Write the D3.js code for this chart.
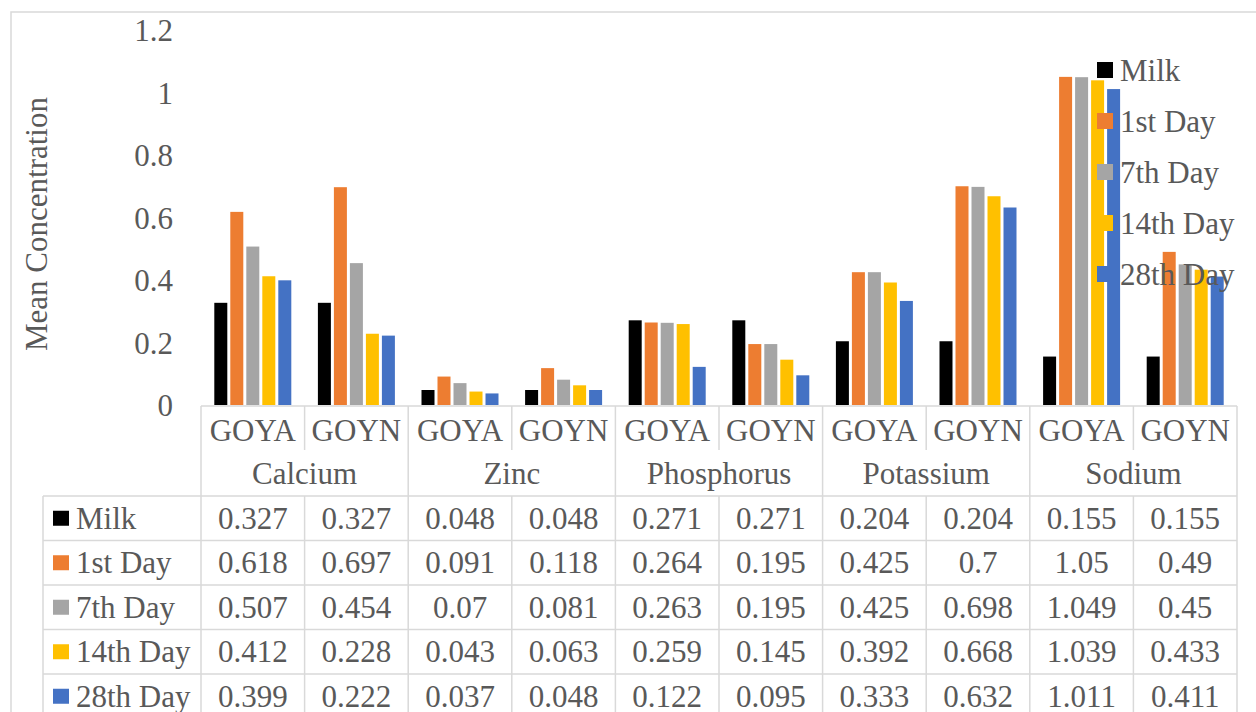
<!DOCTYPE html>
<html>
<head>
<meta charset="utf-8">
<script src="https://cdn.jsdelivr.net/npm/d3@7"></script>
<style>
  html, body { margin: 0; padding: 0; background: #fff; }
  svg { display: block; }
</style>
</head>
<body>
<svg id="chart" width="1256" height="712" font-family="'Liberation Serif', 'Times New Roman', Times, serif" fill="#595959"></svg>
<script>
// ---- data ----
const elements = ["Calcium", "Zinc", "Phosphorus", "Potassium", "Sodium"];
const samples = ["GOYA", "GOYN"];
const seriesNames = ["Milk", "1st Day", "7th Day", "14th Day", "28th Day"];
const seriesColors = ["#000000", "#ED7D31", "#A5A5A5", "#FFC000", "#4472C4"];
const milk    = [0.327, 0.327, 0.048, 0.048, 0.271, 0.271, 0.204, 0.204, 0.155, 0.155];
const day1    = [0.618, 0.697, 0.091, 0.118, 0.264, 0.195, 0.425, 0.7,   1.05,  0.49];
const day7    = [0.507, 0.454, 0.07,  0.081, 0.263, 0.195, 0.425, 0.698, 1.049, 0.45];
const day14   = [0.412, 0.228, 0.043, 0.063, 0.259, 0.145, 0.392, 0.668, 1.039, 0.433];
const day28   = [0.399, 0.222, 0.037, 0.048, 0.122, 0.095, 0.333, 0.632, 1.011, 0.411];
const yTicks  = [0, 0.2, 0.4, 0.6, 0.8, 1, 1.2];
const yTitle  = "Mean Concentration";

const seriesValues = [milk, day1, day7, day14, day28];
const categories = [];
elements.forEach(e => samples.forEach(s => categories.push({ key: e + "|" + s, element: e, sample: s })));

// ---- layout ----
const FONT = "'Liberation Serif', 'Times New Roman', Times, serif";
const TEXT = "#595959";
const svg = d3.select("#chart");
const plotLeft = 201, plotRight = 1237;
const yZero = 405, yTop = 30;
const gridColor = "#d9d9d9";
const fontSize = 31;

function txt(sel) {
  return sel.attr("font-family", FONT).attr("font-size", fontSize).attr("fill", TEXT);
}

// outer chart border
svg.append("path")
  .attr("d", `M11,713 L11,12 L1257,12`)
  .attr("fill", "none").attr("stroke", gridColor).attr("stroke-width", 1.5);

const x = d3.scaleBand().domain(categories.map(c => c.key)).range([plotLeft, plotRight]).padding(0);
const catW = x.bandwidth();
const groupW = 77;
const xs = d3.scaleBand().domain(seriesNames)
  .range([(catW - groupW) / 2, (catW - groupW) / 2 + groupW])
  .paddingInner(0.1875).paddingOuter(0);
const y = d3.scaleLinear().domain([0, 1.2]).range([yZero, yTop]);

// y axis labels
const yAxis = d3.axisLeft(y).tickValues(yTicks).tickFormat(d => String(d)).tickSize(0).tickPadding(0);
const yg = svg.append("g").attr("transform", "translate(173,0)").call(yAxis);
yg.select(".domain").remove();
txt(yg.selectAll("text")).attr("dy", "0.35em");
yg.attr("font-family", FONT).attr("font-size", fontSize);

// y title
txt(svg.append("text"))
  .attr("transform", `translate(36,224) rotate(-90)`)
  .attr("text-anchor", "middle").attr("dominant-baseline", "central")
  .text(yTitle);

// bars
seriesNames.forEach((s, si) => {
  svg.append("g").selectAll("rect")
    .data(categories.map((c, i) => ({ c, v: seriesValues[si][i] })))
    .join("rect")
    .attr("x", d => x(d.c.key) + xs(s))
    .attr("width", xs.bandwidth())
    .attr("y", d => y(d.v))
    .attr("height", d => y(0) - y(d.v))
    .attr("fill", seriesColors[si]);
});

// ---- data table ----
const rowTop = 406;
const rowSample = [406, 450];
const rowElement = [450, 496];
const rowH = 44.5;
const dataTop = 496;
const tableLeft = 43;
const tableBottom = 713;
const lines = svg.append("g").attr("stroke", gridColor).attr("stroke-width", 1.5).attr("fill", "none");

lines.append("line").attr("x1", plotLeft).attr("x2", plotRight).attr("y1", rowTop).attr("y2", rowTop);
for (let r = 0; r <= seriesNames.length; r++) {
  const yy = dataTop + r * rowH;
  if (yy < tableBottom) lines.append("line").attr("x1", tableLeft).attr("x2", plotRight).attr("y1", yy).attr("y2", yy);
}
lines.append("line").attr("x1", tableLeft).attr("x2", tableLeft).attr("y1", dataTop).attr("y2", tableBottom);
categories.forEach((c, i) => {
  const xx = x(c.key);
  if (i % 2 === 0) {
    lines.append("line").attr("x1", xx).attr("x2", xx).attr("y1", rowTop).attr("y2", tableBottom);
  } else {
    lines.append("line").attr("x1", xx).attr("x2", xx).attr("y1", rowTop).attr("y2", rowSample[1]);
    lines.append("line").attr("x1", xx).attr("x2", xx).attr("y1", dataTop).attr("y2", tableBottom);
  }
});
lines.append("line").attr("x1", plotRight).attr("x2", plotRight).attr("y1", rowTop).attr("y2", tableBottom);

// sample labels
txt(svg.append("g").selectAll("text").data(categories).join("text"))
  .attr("x", d => x(d.key) + catW / 2)
  .attr("y", (rowSample[0] + rowSample[1]) / 2 + 2)
  .attr("text-anchor", "middle").attr("dominant-baseline", "central")
  .text(d => d.sample);

// element labels
txt(svg.append("g").selectAll("text").data(elements).join("text"))
  .attr("x", d => x(d + "|" + samples[0]) + catW)
  .attr("y", (rowElement[0] + rowElement[1]) / 2)
  .attr("text-anchor", "middle").attr("dominant-baseline", "central")
  .text(d => d);

// table rows
seriesNames.forEach((s, si) => {
  const cy = dataTop + si * rowH + rowH / 2;
  svg.append("rect").attr("x", 53).attr("y", cy - 7.5).attr("width", 16).attr("height", 15).attr("fill", seriesColors[si]);
  txt(svg.append("text")).attr("x", 76).attr("y", cy).attr("dominant-baseline", "central").text(s);
  txt(svg.append("g").selectAll("text").data(categories.map((c, i) => ({ c, v: seriesValues[si][i] }))).join("text"))
    .attr("x", d => x(d.c.key) + catW / 2)
    .attr("y", cy)
    .attr("text-anchor", "middle").attr("dominant-baseline", "central")
    .text(d => String(d.v));
});

// right legend
const legendTop = 70, legendStep = 51;
seriesNames.forEach((s, si) => {
  const cy = legendTop + si * legendStep;
  svg.append("rect").attr("x", 1097).attr("y", cy - 8).attr("width", 16).attr("height", 16).attr("fill", seriesColors[si]);
  txt(svg.append("text")).attr("x", 1120).attr("y", cy).attr("dominant-baseline", "central").text(s);
});
</script>
</body>
</html>
